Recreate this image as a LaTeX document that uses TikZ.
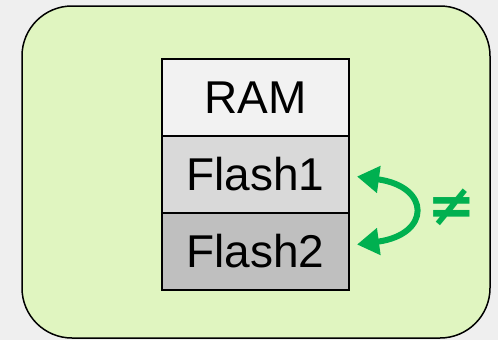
\documentclass[tikz,border=0pt]{standalone}
\usepackage{fontspec}
\setmainfont{Liberation Sans}
\newfontfamily\symfont{DejaVu Sans}
\usetikzlibrary{positioning,arrows.meta}
\definecolor{bggray}{HTML}{EFEFEF}
\definecolor{boardgreen}{HTML}{E0F5C0}
\definecolor{ramfill}{HTML}{F2F2F2}
\definecolor{flashafill}{HTML}{D9D9D9}
\definecolor{flashbfill}{HTML}{BFBFBF}
\definecolor{swapgreen}{HTML}{00B050}
\tikzset{
  cell/.style={draw, line width=1.5pt, minimum width=187pt, minimum height=77pt,
    inner sep=0pt, outer sep=0pt, font=\fontsize{46}{46}\selectfont},
  swaparrow/.style={draw=swapgreen, line width=6pt,
    {Triangle[length=22pt,width=26pt]}-{Triangle[length=22pt,width=26pt]}}
}
\begin{document}
\begin{tikzpicture}[x=1pt,y=-1pt]
\fill[bggray] (0,0) rectangle (498,340);
\useasboundingbox (0,0) rectangle (498,340);
\draw[line width=1.5pt, fill=boardgreen, rounded corners=50pt] (22,6) rectangle (490,338);%board

\node[cell, fill=ramfill] (ram) at (255.5,97.5) {RAM};
\node[cell, fill=flashafill, below=0pt of ram] (flash1) {Flash1};
\node[cell, fill=flashbfill, below=0pt of flash1] (flash2) {Flash2};

\coordinate (tipa) at ([shift={(8,2)}]flash1.east);
\coordinate (tipb) at ([shift={(8,-7)}]flash2.east);
\draw[swaparrow] (tipa) .. controls ([shift={(74,10)}]tipa) and ([shift={(74,-10)}]tipb) .. (tipb);
\node[text=swapgreen, font=\symfont\bfseries\fontsize{58}{58}\selectfont] (neq) at (452,207) {≠};
\end{tikzpicture}
\end{document}
